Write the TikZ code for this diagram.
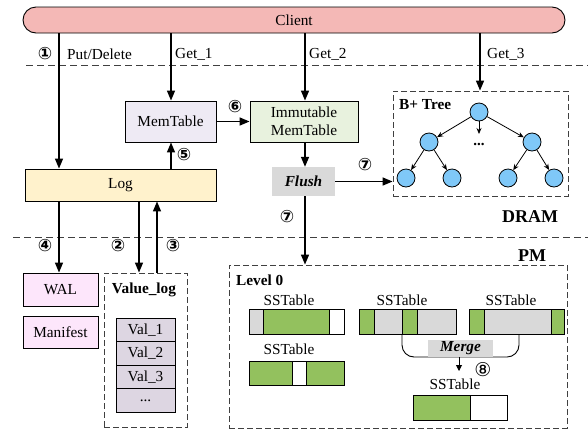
\documentclass[tikz,border=0pt]{standalone}
\usepackage{fontspec}
\setmainfont{Liberation Serif}
\newfontfamily\circfont{DejaVu Sans}
\usetikzlibrary{arrows.meta,shapes.misc}
\definecolor{clientc}{HTML}{F4B8B6}
\definecolor{memc}{HTML}{EEEAF4}
\definecolor{immc}{HTML}{E8F2DE}
\definecolor{logc}{HTML}{FFF2CC}
\definecolor{walc}{HTML}{FDE6FB}
\definecolor{valc}{HTML}{DDD6E2}
\definecolor{nodec}{HTML}{7FC8F8}
\definecolor{grn}{HTML}{93C15E}
\definecolor{gry}{HTML}{D9D9D9}
\begin{document}
\begin{tikzpicture}[x=1pt,y=-1pt, font=\fontsize{15.3}{17}\selectfont,
  box/.style={draw, line width=0.9pt, inner sep=0pt, align=center},
  arr/.style={line width=1.5pt, -{Triangle[length=10pt,width=8pt]}},
  tarr/.style={line width=0.8pt, -{Stealth[length=6pt,width=5pt]}},
  dline/.style={draw=black!75, line width=0.9pt, dash pattern=on 7pt off 4pt},
  dbox/.style={draw=black!75, line width=0.9pt, dash pattern=on 6pt off 3pt, inner sep=0pt},
  num/.style={font=\circfont\bfseries\fontsize{17}{17}\selectfont, inner sep=0pt},
  lbl/.style={inner sep=0pt, anchor=west},
  tn/.style={circle, draw, fill=nodec, minimum size=18pt, inner sep=0pt, line width=0.8pt},
  seg/.style={draw, line width=0.9pt},
  sst/.style={inner sep=0pt},
  bl/.style={inner sep=0pt, font=\bfseries\fontsize{15.3}{17}\selectfont},
]
\useasboundingbox (0,0) rectangle (588,432);

% client
\node[rounded rectangle, draw, line width=0.9pt, fill=clientc, minimum width=542pt, minimum height=26pt, inner sep=0pt] (client) at (294,20) {Client};

% dashed separators
\draw[dline] (26,65) -- (588,65);
\draw[dline] (13,237) -- (588,237);

% DRAM components
\node[box, fill=memc, minimum width=91pt, minimum height=41pt] (mem) at (170.5,121.5) {MemTable};
\node[box, fill=immc, minimum width=108pt, minimum height=41pt, font=\fontsize{15.3}{18.5}\selectfont] (imm) at (304,121.5) {Immutable\\MemTable};
\node[fill=gry, minimum width=63pt, minimum height=29pt, inner sep=0pt, font=\bfseries\itshape\fontsize{15.3}{17}\selectfont] (flush) at (303.5,181.5) {Flush};
\node[box, fill=logc, minimum width=191pt, minimum height=32pt] (log) at (120.5,185) {Log};

% B+ tree
\node[dbox, minimum width=175pt, minimum height=105pt] (bt) at (480.5,143.5) {};
\node[bl, anchor=west] (btl) at (399,105) {B+ Tree};
\node[tn] (r) at (479,112) {};
\node[tn] (a) at (429,142) {};
\node[tn] (b) at (532,142) {};
\node[tn] (l1) at (406,178) {};
\node[tn] (l2) at (452,178) {};
\node[tn] (l3) at (508,178) {};
\node[tn] (l4) at (554,178) {};
\node[inner sep=0pt, font=\bfseries\fontsize{15}{15}\selectfont] (dots) at (479,144) {...};
\coordinate (dt) at (479,134);
\draw[tarr] (r) -- (a);
\draw[tarr] (r) -- (b);
\draw[tarr] (r) -- (dt);
\draw[tarr] (a) -- (l1);
\draw[tarr] (a) -- (l2);
\draw[tarr] (b) -- (l3);
\draw[tarr] (b) -- (l4);

\node[bl, font=\bfseries\fontsize{18}{18}\selectfont] (dram) at (530,217) {DRAM};
\node[bl, font=\bfseries\fontsize{18}{18}\selectfont] (pml) at (532,256) {PM};

% PM components
\node[box, fill=walc, minimum width=75pt, minimum height=33pt] (wal) at (60.5,289.5) {WAL};
\node[box, fill=walc, minimum width=75pt, minimum height=32pt] (man) at (60.5,332) {Manifest};
\node[dbox, minimum width=83pt, minimum height=154pt] (vl) at (145.5,350) {};
\node[bl] (vll) at (144,290) {Value\_log};
\node[box, fill=valc, minimum width=59pt, minimum height=23.5pt] (v1) at (145.5,330) {Val\_1};
\node[box, fill=valc, minimum width=59pt, minimum height=23.5pt] (v2) at (145.5,353.5) {Val\_2};
\node[box, fill=valc, minimum width=59pt, minimum height=23.5pt] (v3) at (145.5,377) {Val\_3};
\node[box, fill=valc, minimum width=59pt, minimum height=23.5pt] (v4) at (145.5,400.5) {...};

% coordinates for vertical arrows
\coordinate (xa) at (59,0);
\coordinate (x2) at (139,0);
\coordinate (x3) at (157,0);
\coordinate (xm) at (171,0);
\coordinate (xi) at (305,0);
\coordinate (xb) at (480,0);

% arrows
\draw[arr] (client.south -| xa) -- (log.north -| xa);
\draw[arr] (client.south -| xm) -- (mem.north -| xm);
\draw[arr] (client.south -| xi) -- (imm.north -| xi);
\draw[arr] (client.south -| xb) -- (bt.north -| xb);
\draw[arr] (mem.east) -- (imm.west);
\draw[arr] (log.north -| xm) -- (mem.south -| xm);
\draw[arr] (imm.south -| xi) -- (flush.north -| xi);
\draw[arr] (flush.east) -- (bt.west |- flush.east);
\draw[arr] (log.south -| xa) -- (wal.north -| xa);
\draw[arr] (log.south -| x2) -- (vl.north -| x2);
\draw[arr] (vl.north -| x3) -- (log.south -| x3);

% labels
\node[num] (n1) at (45,54) {①};
\node[lbl] (put) at (67,54) {Put/Delete};
\node[lbl] (g1) at (175,54) {Get\_1};
\node[lbl] (g2) at (309,54) {Get\_2};
\node[lbl] (g3) at (487,54) {Get\_3};
\node[num] (n6) at (235,107) {⑥};
\node[num] (n5) at (184,155) {⑤};
\node[num] (n7a) at (365,165) {⑦};
\node[num] (n7b) at (287,217) {⑦};
\node[num] (n4) at (45,246) {④};
\node[num] (n2) at (118,246) {②};
\node[num] (n3) at (173,246) {③};

% PM box
\node[dbox, minimum width=338pt, minimum height=163pt] (pm) at (398,346.5) {};
\draw[arr] (flush.south -| xi) -- (pm.north -| xi);
\node[bl, anchor=west] (lv0) at (236,280) {Level 0};

% SSTables
\node[sst] (s1) at (289,300) {SSTable};
\draw[seg, fill=gry] (249,309) rectangle (263,334);
\draw[seg, fill=grn] (263,309) rectangle (329,334);
\draw[seg, fill=white] (329,309) rectangle (344,334);

\node[sst] (s2) at (289,349) {SSTable};
\draw[seg, fill=grn] (249,361) rectangle (292,385);
\draw[seg, fill=white] (292,361) rectangle (306,385);
\draw[seg, fill=grn] (306,361) rectangle (344,385);

\node[sst] (s3) at (402,300) {SSTable};
\draw[seg, fill=grn] (359,309) rectangle (374,334);
\draw[seg, fill=gry] (374,309) rectangle (402,334);
\draw[seg, fill=grn] (402,309) rectangle (417,334);
\draw[seg, fill=gry] (417,309) rectangle (456,334);

\node[sst] (s4) at (511,300) {SSTable};
\draw[seg, fill=grn] (469,309) rectangle (484,334);
\draw[seg, fill=gry] (484,309) rectangle (551,334);
\draw[seg, fill=grn] (551,309) rectangle (564,334);

\draw[line width=0.9pt, rounded corners=12pt] (402,334) -- (402,357) -- (519,357) -- (519,334);
\node[fill=gry, minimum width=65pt, minimum height=17pt, inner sep=0pt, font=\bfseries\itshape\fontsize{15.3}{15}\selectfont] (merge) at (460.5,348) {Merge};
\coordinate (m1) at (459,357);
\coordinate (m2) at (459,371);
\draw[line width=0.9pt, -{Triangle[length=6pt,width=6pt]}] (m1) -- (m2);
\node[num, font=\circfont\fontsize{19}{19}\selectfont] (n8) at (483,370) {⑧};

\node[sst] (s5) at (455,384) {SSTable};
\draw[seg, fill=grn] (413,395) rectangle (470,420);
\draw[seg, fill=white] (470,395) rectangle (507,420);
\end{tikzpicture}
\end{document}
